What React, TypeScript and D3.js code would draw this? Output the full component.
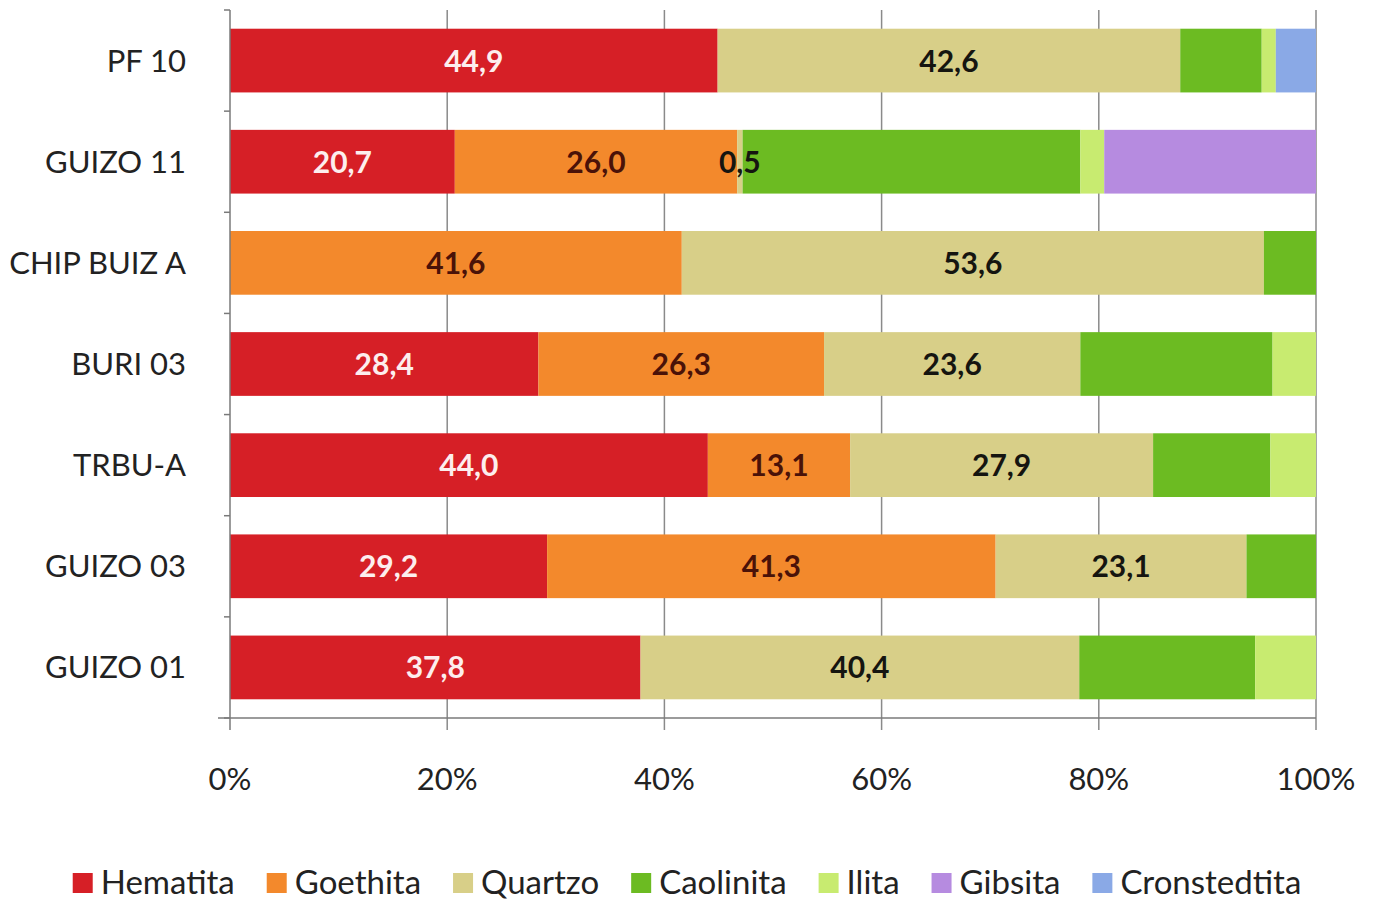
import React, { useEffect, useRef } from "react";
import * as d3 from "d3";

const categories = ["PF 10", "GUIZO 11", "CHIP BUIZ A", "BURI 03", "TRBU-A", "GUIZO 03", "GUIZO 01"];
const minerals = ["Hematita", "Goethita", "Quartzo", "Caolinita", "Ilita", "Gibsita", "Cronstedtita"];
const hematita = [44.9, 20.7, 0, 28.4, 44.0, 29.2, 37.8];
const goethita = [0, 26.0, 41.6, 26.3, 13.1, 41.3, 0];
const quartzo = [42.6, 0.5, 53.6, 23.6, 27.9, 23.1, 40.4];
const caolinita = [7.5, 31.1, 4.8, 17.7, 10.8, 6.4, 16.2];
const ilita = [1.3, 2.2, 0, 4.0, 4.2, 0, 5.6];
const gibsita = [0, 19.5, 0, 0, 0, 0, 0];
const cronstedtita = [3.7, 0, 0, 0, 0, 0, 0];
const xTicks = [0, 20, 40, 60, 80, 100];
const labeledSeries = ["Hematita", "Goethita", "Quartzo"];

const colors: Record<string, string> = {
  Hematita: "#d61f26",
  Goethita: "#f3892c",
  Quartzo: "#d8cf88",
  Caolinita: "#6cbb22",
  Ilita: "#c8eb70",
  Gibsita: "#b68be0",
  Cronstedtita: "#8aa9e6",
};
const labelColors: Record<string, string> = {
  Hematita: "#fdeeee",
  Goethita: "#4a1208",
  Quartzo: "#151510",
};

const FONT = "Lato, 'Open Sans', sans-serif";

export default function App() {
  const ref = useRef<SVGSVGElement | null>(null);

  useEffect(() => {
    document.body.style.margin = "0";
    const svg = d3.select(ref.current);
    svg.selectAll("*").remove();

    const seriesValues: Record<string, number[]> = {
      Hematita: hematita,
      Goethita: goethita,
      Quartzo: quartzo,
      Caolinita: caolinita,
      Ilita: ilita,
      Gibsita: gibsita,
      Cronstedtita: cronstedtita,
    };
    const rows = categories.map((c, i) => {
      const r: any = { cat: c };
      minerals.forEach((m) => (r[m] = seriesValues[m][i]));
      return r;
    });

    const x = d3.scaleLinear().domain([0, 100]).range([230, 1316]);
    const y = d3.scaleBand<string>().domain(categories).range([10, 718]).paddingInner(0.37).paddingOuter(0.185);

    const g = svg.append("g");
    g.selectAll("line.grid")
      .data(xTicks.slice(1))
      .join("line")
      .attr("x1", (d) => x(d))
      .attr("x2", (d) => x(d))
      .attr("y1", 10)
      .attr("y2", 730)
      .attr("stroke", "#8a8a8a")
      .attr("stroke-width", 1.5);

    const stack = d3.stack<any>().keys(minerals);
    const layers = stack(rows);

    layers.forEach((layer) => {
      const key = layer.key;
      g.append("g")
        .selectAll("rect")
        .data(layer.filter((d) => d[1] - d[0] > 0))
        .join("rect")
        .attr("x", (d) => x(d[0]))
        .attr("width", (d) => x(d[1]) - x(d[0]))
        .attr("y", (d) => y(d.data.cat)!)
        .attr("height", y.bandwidth())
        .attr("fill", colors[key]);
    });

    layers
      .filter((l) => labeledSeries.includes(l.key))
      .forEach((layer) => {
        const key = layer.key;
        g.append("g")
          .selectAll("text")
          .data(layer.filter((d) => d[1] - d[0] > 0))
          .join("text")
          .attr("x", (d) => x((d[0] + d[1]) / 2))
          .attr("y", (d) => y(d.data.cat)! + y.bandwidth() / 2 + 11)
          .attr("text-anchor", "middle")
          .attr("font-family", FONT)
          .attr("font-weight", "bold")
          .attr("font-size", 30)
          .attr("fill", labelColors[key])
          .text((d) => (d[1] - d[0]).toFixed(1).replace(".", ","));
      });

    g.append("line")
      .attr("x1", 218)
      .attr("x2", 1316)
      .attr("y1", 718)
      .attr("y2", 718)
      .attr("stroke", "#7a7a7a")
      .attr("stroke-width", 1.5);
    g.append("line")
      .attr("x1", 230)
      .attr("x2", 230)
      .attr("y1", 10)
      .attr("y2", 730)
      .attr("stroke", "#7a7a7a")
      .attr("stroke-width", 1.5);
    g.selectAll("line.ytick")
      .data(d3.range(categories.length + 1))
      .join("line")
      .attr("x1", 224)
      .attr("x2", 230)
      .attr("y1", (i) => 10 + i * (708 / categories.length))
      .attr("y2", (i) => 10 + i * (708 / categories.length))
      .attr("stroke", "#7a7a7a")
      .attr("stroke-width", 1.5);

    g.selectAll("text.cat")
      .data(categories)
      .join("text")
      .attr("x", 186)
      .attr("y", (d) => y(d)! + y.bandwidth() / 2 + 11)
      .attr("text-anchor", "end")
      .attr("font-family", FONT)
      .attr("font-size", 31)
      .attr("fill", "#222")
      .text((d) => d);

    g.selectAll("text.xt")
      .data(xTicks)
      .join("text")
      .attr("x", (d) => x(d))
      .attr("y", 790)
      .attr("text-anchor", "middle")
      .attr("font-family", FONT)
      .attr("font-size", 31)
      .attr("fill", "#222")
      .text((d) => d + "%");

    const lg = svg.append("g");
    const sq = 20;
    const gapAfterSq = 8;
    const gapItems = 32;
    const items = minerals.map((m) => {
      const item = lg.append("g");
      item.append("rect").attr("width", sq).attr("height", sq).attr("y", -sq / 2).attr("fill", colors[m]);
      const t = item
        .append("text")
        .attr("x", sq + gapAfterSq)
        .attr("y", 11)
        .attr("font-family", FONT)
        .attr("font-size", 33)
        .attr("fill", "#222")
        .text(m);
      const w = sq + gapAfterSq + (t.node() as SVGTextElement).getComputedTextLength();
      return { item, w };
    });
    const total = d3.sum(items, (d) => d.w) + gapItems * (items.length - 1);
    let cx = 687 - total / 2;
    items.forEach(({ item, w }) => {
      item.attr("transform", `translate(${cx},883)`);
      cx += w + gapItems;
    });
  }, []);

  return <svg ref={ref} width={1374} height={903} style={{ display: "block", background: "#fff" }} />;
}
